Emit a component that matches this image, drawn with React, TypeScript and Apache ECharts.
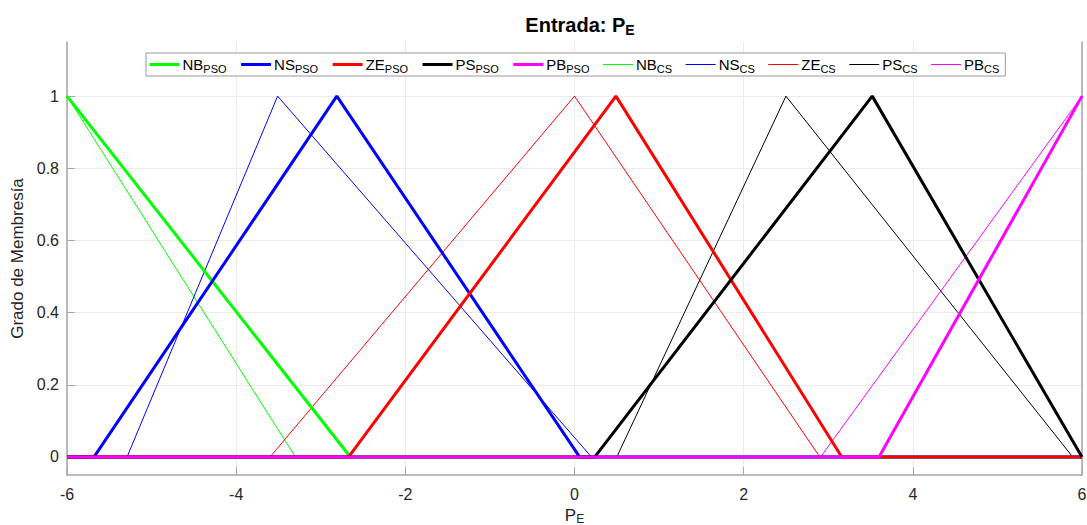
import React, { useEffect, useRef } from "react";
import * as echarts from "echarts";

// Membership functions: breakpoints (x) and membership (y)
const NB_PSO_X = [-6, -2.65, 6];
const NB_PSO_Y = [1, 0, 0];
const NS_PSO_X = [-6, -5.68, -2.81, 0.06, 6];
const NS_PSO_Y = [0, 0, 1, 0, 0];
const ZE_PSO_X = [-6, -2.67, 0.49, 3.16, 6];
const ZE_PSO_Y = [0, 0, 1, 0, 0];
const PS_PSO_X = [-6, 0.24, 3.52, 6];
const PS_PSO_Y = [0, 0, 1, 0];
const PB_PSO_X = [-6, 3.6, 6];
const PB_PSO_Y = [0, 0, 1];

const NB_CS_X = [-6, -3.3, 6];
const NB_CS_Y = [1, 0, 0];
const NS_CS_X = [-6, -5.29, -3.51, 0.2, 6];
const NS_CS_Y = [0, 0, 1, 0, 0];
const ZE_CS_X = [-6, -3.6, 0.0, 2.9, 6];
const ZE_CS_Y = [0, 0, 1, 0, 0];
const PS_CS_X = [-6, 0.5, 2.5, 5.89, 6];
const PS_CS_Y = [0, 0, 1, 0, 0];
const PB_CS_X = [-6, 2.91, 6];
const PB_CS_Y = [0, 0, 1];

const Y_TICKS = [0, 0.2, 0.4, 0.6, 0.8, 1];

const PSO = [
  { name: "NB_PSO", x: NB_PSO_X, y: NB_PSO_Y, color: "#00ff00" },
  { name: "NS_PSO", x: NS_PSO_X, y: NS_PSO_Y, color: "#0000ff" },
  { name: "ZE_PSO", x: ZE_PSO_X, y: ZE_PSO_Y, color: "#ff0000" },
  { name: "PS_PSO", x: PS_PSO_X, y: PS_PSO_Y, color: "#000000" },
  { name: "PB_PSO", x: PB_PSO_X, y: PB_PSO_Y, color: "#ff00ff" },
];
const CS = [
  { name: "NB_CS", x: NB_CS_X, y: NB_CS_Y, color: "#00ff00" },
  { name: "NS_CS", x: NS_CS_X, y: NS_CS_Y, color: "#0000ff" },
  { name: "ZE_CS", x: ZE_CS_X, y: ZE_CS_Y, color: "#ff0000" },
  { name: "PS_CS", x: PS_CS_X, y: PS_CS_Y, color: "#000000" },
  { name: "PB_CS", x: PB_CS_X, y: PB_CS_Y, color: "#ff00ff" },
];

const FONT = "'Liberation Sans', Arial, Helvetica, sans-serif";
const AXIS_GREY = "#a6a6a6";
const TEXT = "#262626";

export default function App() {
  const ref = useRef<HTMLDivElement>(null);
  useEffect(() => {
    if (!ref.current) return;
    const chart = echarts.init(ref.current, undefined, { renderer: "svg" });
    const mk = (s: any, width: number) => ({
      name: s.name,
      type: "line",
      symbol: "none",
      data: s.x.map((v: number, i: number) => [v, s.y[i]]),
      lineStyle: { color: s.color, width },
      itemStyle: { color: s.color },
      z: width > 2 ? 3 : 2,
    });
    chart.setOption({
      animation: false,
      textStyle: { fontFamily: FONT },
      title: {
        text: "{a|Entrada: P}{s|E}",
        left: 575,
        textAlign: "center",
        top: 7,
        textStyle: {
          rich: {
            a: { fontSize: 20, fontWeight: "bold", color: "#000", fontFamily: FONT },
            s: { fontSize: 14, fontWeight: "bold", color: "#000", fontFamily: FONT, padding: [11, 0, 0, 0] },
          },
        },
      },
      legend: {
        left: 146,
        top: 53,
        width: 900,
        padding: [4, 6, 2, 2],
        itemGap: 13,
        itemWidth: 30,
        itemHeight: 12,
        backgroundColor: "#fff",
        borderColor: "#9a9a9a",
        borderWidth: 1,
        borderRadius: 0,
        itemStyle: { opacity: 0 },
        data: [
          ...PSO.map((s) => ({ name: s.name, lineStyle: { width: 3, color: s.color } })),
          ...CS.map((s) => ({ name: s.name, lineStyle: { width: 1, color: s.color } })),
        ],
        formatter: (n: string) => {
          const [b, s] = n.split("_");
          return `{m|${b}}{s|${s}}`;
        },
        textStyle: {
          padding: [0, 0, 0, -2],
          rich: {
            m: { fontSize: 15, color: "#000", fontFamily: FONT },
            s: { fontSize: 11, color: "#000", fontFamily: FONT, padding: [8, 0, 0, 0] },
          },
        },
      },
      grid: { left: 67, right: 5, top: 42, bottom: 50, containLabel: false, outerBoundsMode: "none" },
      xAxis: {
        type: "value",
        min: -6,
        max: 6,
        interval: 2,
        name: "{m|P}{s|E}",
        nameLocation: "middle",
        nameGap: 27,
        nameTextStyle: {
          rich: {
            m: { fontSize: 17, color: TEXT, fontFamily: FONT },
            s: { fontSize: 12, color: TEXT, fontFamily: FONT, padding: [8, 0, 0, 0] },
          },
        },
        axisLine: { onZero: false, lineStyle: { color: AXIS_GREY, width: 1.5 } },
        axisTick: { inside: true, length: 8, lineStyle: { color: AXIS_GREY } },
        axisLabel: { fontSize: 16, color: TEXT, margin: 11, fontFamily: FONT },
        splitLine: { show: true, lineStyle: { color: "#ebebeb", width: 1 } },
      },
      yAxis: [
        {
          type: "value",
          min: -0.05,
          max: 1.15,
          name: "Grado de Membresía",
          nameLocation: "middle",
          nameGap: 34,
          nameTextStyle: { fontSize: 17, color: TEXT, fontFamily: FONT },
          axisLine: { show: true, onZero: false, lineStyle: { color: AXIS_GREY, width: 1.5 } },
          axisTick: { show: true, inside: true, length: 8, customValues: Y_TICKS, lineStyle: { color: AXIS_GREY } },
          axisLabel: { fontSize: 16, color: TEXT, margin: 8, fontFamily: FONT, customValues: Y_TICKS },
          splitLine: { show: true, lineStyle: { color: "#ebebeb", width: 1 } },
        },
        {
          type: "value",
          min: -0.05,
          max: 1.15,
          position: "right",
          axisLine: { show: true, onZero: false, lineStyle: { color: AXIS_GREY, width: 1.5 } },
          axisTick: { show: false },
          axisLabel: { show: false },
          splitLine: { show: false },
        },
      ],
      series: [...CS.map((s) => mk(s, 1)), ...PSO.map((s) => mk(s, 3))],
    });
    return () => chart.dispose();
  }, []);
  return (
    <div
      ref={ref}
      style={{ position: "fixed", left: 0, top: 0, width: 1087, height: 525, background: "#fff" }}
    />
  );
}
